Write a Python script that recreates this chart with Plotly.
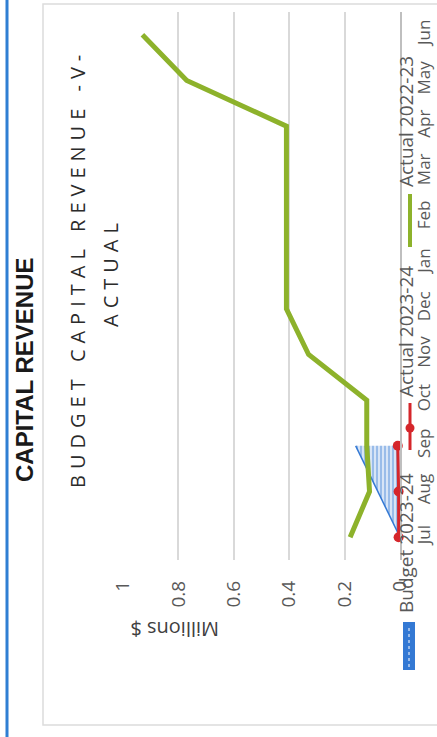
import plotly.graph_objects as go

# ---- data ----
months = ["Jul", "Aug", "Sep", "Oct", "Nov", "Dec", "Jan", "Feb", "Mar", "Apr", "May", "Jun"]
budget_2023_24 = [0.0, 0.08, 0.16]
actual_2023_24 = [0.005, 0.005, 0.008]
actual_2022_23 = [0.18, 0.11, 0.12, 0.12, 0.33, 0.41, 0.41, 0.41, 0.41, 0.41, 0.77, 0.93]
value_ticks = [0, 0.2, 0.4, 0.6, 0.8, 1]
value_tick_labels = ["0", "0.2", "0.4", "0.6", "0.8", "1"]
series_names = ["Budget 2023-24", "Actual 2023-24", "Actual 2022-23"]

W, H = 437, 737
L, R, T, B = 123, 400, 12, 560


def px(x):
    return (x - L) / (R - L)


def py(y):
    return (B - y) / (B - T)


BLUE = "#3479d4"
RED = "#d5262b"
GREEN = "#8db22b"
GREY_TXT = "#595959"
FONT = "Open Sans"

fig = go.Figure()
fig.add_trace(go.Scatter(
    x=budget_2023_24, y=months[:len(budget_2023_24)], mode="lines", fill="tozerox",
    name=series_names[0],
    line=dict(color=BLUE, width=1.5),
    fillcolor="rgba(255,255,255,0)",
    fillpattern=dict(shape="|", fgcolor=BLUE, bgcolor="white", size=4, solidity=0.7),
))
fig.add_trace(go.Scatter(
    x=actual_2023_24, y=months[:len(actual_2023_24)], mode="lines+markers",
    name=series_names[1], cliponaxis=False,
    line=dict(color=RED, width=3), marker=dict(color=RED, size=10),
))
fig.add_trace(go.Scatter(
    x=actual_2022_23, y=months, mode="lines", name=series_names[2],
    line=dict(color=GREEN, width=5),
))

fig.update_layout(
    width=W, height=H, showlegend=False,
    margin=dict(l=L, r=W - R, t=T, b=H - B, pad=0, autoexpand=False),
    paper_bgcolor="white", plot_bgcolor="white",
    font=dict(family=FONT, color=GREY_TXT),
)
fig.update_xaxes(
    range=[1, 0], tickmode="array", tickvals=value_ticks, ticktext=value_tick_labels,
    tickangle=-90, showgrid=True, gridcolor="#d9d9d9", gridwidth=1.5,
    zeroline=False, showline=False, ticks="", ticklabelstandoff=16, automargin=False,
    tickfont=dict(size=19, family=FONT, color=GREY_TXT),
)
fig.update_yaxes(
    type="category", categoryorder="array", categoryarray=months,
    range=[-0.5, 11.5], side="right", tickangle=-90,
    showgrid=False, showline=True, linecolor="#bfbfbf", linewidth=1.5,
    ticks="", ticklabelstandoff=8, automargin=False,
    tickfont=dict(size=17, family=FONT, color=GREY_TXT),
)

shapes = []
# chart frame and page border
shapes.append(dict(type="rect", xref="paper", yref="paper", x0=px(43), x1=px(446), y0=py(725), y1=py(4),
                   line=dict(color="#dcdcdc", width=1.5), fillcolor="rgba(0,0,0,0)", layer="below"))
shapes.append(dict(type="line", xref="paper", yref="paper", x0=px(7), x1=px(7), y0=py(737), y1=py(0),
                   line=dict(color="#2f7fd3", width=3)))
# legend symbols
shapes.append(dict(type="rect", xref="paper", yref="paper", x0=px(403), x1=px(415), y0=py(670), y1=py(622),
                   line=dict(width=0), fillcolor=BLUE))
shapes.append(dict(type="line", xref="paper", yref="paper", x0=px(409), x1=px(409), y0=py(667), y1=py(625),
                   line=dict(color="white", width=1, dash="dot")))
shapes.append(dict(type="line", xref="paper", yref="paper", x0=px(410), x1=px(410), y0=py(450), y1=py(403),
                   line=dict(color=RED, width=3)))
shapes.append(dict(type="circle", xref="paper", yref="paper", x0=px(405.5), x1=px(414.5), y0=py(432.5), y1=py(423.5),
                   line=dict(width=0), fillcolor=RED))
shapes.append(dict(type="line", xref="paper", yref="paper", x0=px(410), x1=px(410), y0=py(247), y1=py(194),
                   line=dict(color=GREEN, width=4)))
fig.update_layout(shapes=shapes)

ann = []


def add_text(text, x, y, size, angle=-90, color=GREY_TXT, family=FONT, weight="normal"):
    ann.append(dict(text=text, x=px(x), y=py(y), xref="paper", yref="paper", showarrow=False,
                    xanchor="center", yanchor="middle", textangle=angle,
                    font=dict(size=size, color=color, family=family, weight=weight)))


add_text("CAPITAL REVENUE", 25, 370, 24, color="#1a1a1a", family="Liberation Sans", weight="bold")
add_text("BUDGET CAPITAL REVENUE -V-", 77, 269, 20, color="#2b2b2b")
add_text("ACTUAL", 110, 272, 20, color="#2b2b2b")
add_text("Millions $", 175, 630, 20, angle=180, color="#404040")
add_text(series_names[0], 406, 543, 19)
add_text(series_names[1], 406, 332, 19)
add_text(series_names[2], 406, 122, 19)
fig.update_layout(annotations=ann)

js = """
document.querySelectorAll('.annotation-text').forEach(function(t){
  var s = t.textContent;
  if (s.indexOf('BUDGET') === 0 || s === 'ACTUAL') { t.style.letterSpacing = '6px'; }
});
"""
fig.write_html("out.html", post_script=js)
